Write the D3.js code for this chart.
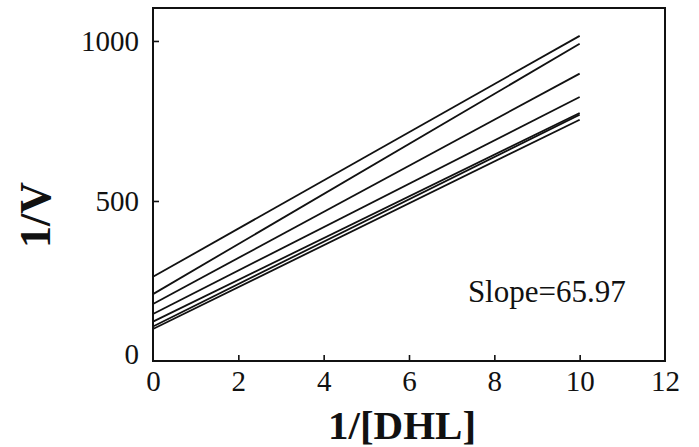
<!DOCTYPE html>
<html>
<head>
<meta charset="utf-8">
<script src="https://cdn.jsdelivr.net/npm/d3@7"></script>
<style>
  body { margin: 0; background: #fff; }
</style>
</head>
<body>
<div id="chart"></div>
<script>
// values: each line runs from 1/[DHL]=0 to 10
var xStart = 0;
var xEnd = 10;
var intercepts = [263, 209, 178, 147, 123, 108, 100];
var endValues = [1016, 991, 898, 825, 775, 770, 754];
var xTicks = [0, 2, 4, 6, 8, 10, 12];
var yTicks = [0, 500, 1000];
var note = "Slope=65.97";

var serif = "'Liberation Serif', 'Times New Roman', Times, serif";

var svgWidth = 699;
var svgHeight = 447;
var margin = { top: 8, right: 34, bottom: 86, left: 153 };
var width = svgWidth - margin.left - margin.right;
var height = svgHeight - margin.top - margin.bottom;

var svg = d3.select("#chart")
  .append("svg")
  .attr("width", svgWidth)
  .attr("height", svgHeight)
  .style("font-family", serif);

var chartGroup = svg.append("g")
  .attr("transform", `translate(${margin.left}, ${margin.top})`);

var xScale = d3.scaleLinear().domain([0, 12]).range([0, width]);
var yScale = d3.scaleLinear().domain([0, 1103]).range([height, 0]);

// axes, ticks point inward
var xAxis = d3.axisBottom(xScale).tickValues(xTicks).tickFormat(d3.format("d"))
  .tickSizeInner(-6).tickSizeOuter(0).tickPadding(9);
var yAxis = d3.axisLeft(yScale).tickValues(yTicks).tickFormat(d3.format("d"))
  .tickSizeInner(-6).tickSizeOuter(0).tickPadding(14);

var gx = chartGroup.append("g")
  .attr("transform", `translate(0, ${height})`)
  .call(xAxis);
var gy = chartGroup.append("g").call(yAxis);

[gx, gy].forEach(function(g) {
  g.attr("font-family", null);
  g.select(".domain").remove();
  g.selectAll("line").attr("stroke", "#111").attr("stroke-width", 1.6);
  g.selectAll("text")
    .style("font-family", serif)
    .style("font-size", "29px")
    .attr("fill", "#111");
});
gx.selectAll(".tick").filter(d => d == 0 || d == 12).select("line").remove();
gy.selectAll(".tick").filter(d => d == 0).select("line").remove();
gy.selectAll(".tick").filter(d => d == 0).select("text").attr("dy", "0.1em");

// frame
chartGroup.append("rect")
  .attr("x", 0).attr("y", 0)
  .attr("width", width).attr("height", height)
  .attr("fill", "none")
  .attr("stroke", "#111")
  .attr("stroke-width", 2);

// lines
var lineData = intercepts.map(function(b, i) {
  return [{ x: xStart, y: b }, { x: xEnd, y: endValues[i] }];
});
var line = d3.line().x(d => xScale(d.x)).y(d => yScale(d.y));

chartGroup.append("g")
  .selectAll("path")
  .data(lineData)
  .enter()
  .append("path")
  .attr("d", line)
  .attr("fill", "none")
  .attr("stroke", "#111")
  .attr("stroke-width", 1.8);

// annotation
chartGroup.append("text")
  .attr("x", xScale(7.38))
  .attr("y", yScale(185))
  .style("font-family", serif)
  .style("font-size", "31px")
  .attr("fill", "#111")
  .text(note);

// axis titles
svg.append("text")
  .attr("transform", `translate(${margin.left + width / 2 - 7}, ${svgHeight - 8})`)
  .attr("text-anchor", "middle")
  .style("font-family", serif)
  .style("font-size", "41px")
  .style("font-weight", "bold")
  .attr("fill", "#111")
  .text("1/[DHL]");

svg.append("text")
  .attr("transform", `translate(50, 215) rotate(-90)`)
  .attr("text-anchor", "middle")
  .style("font-family", serif)
  .style("font-size", "44px")
  .style("font-weight", "bold")
  .attr("fill", "#111")
  .text("1/V");
</script>
</body>
</html>
